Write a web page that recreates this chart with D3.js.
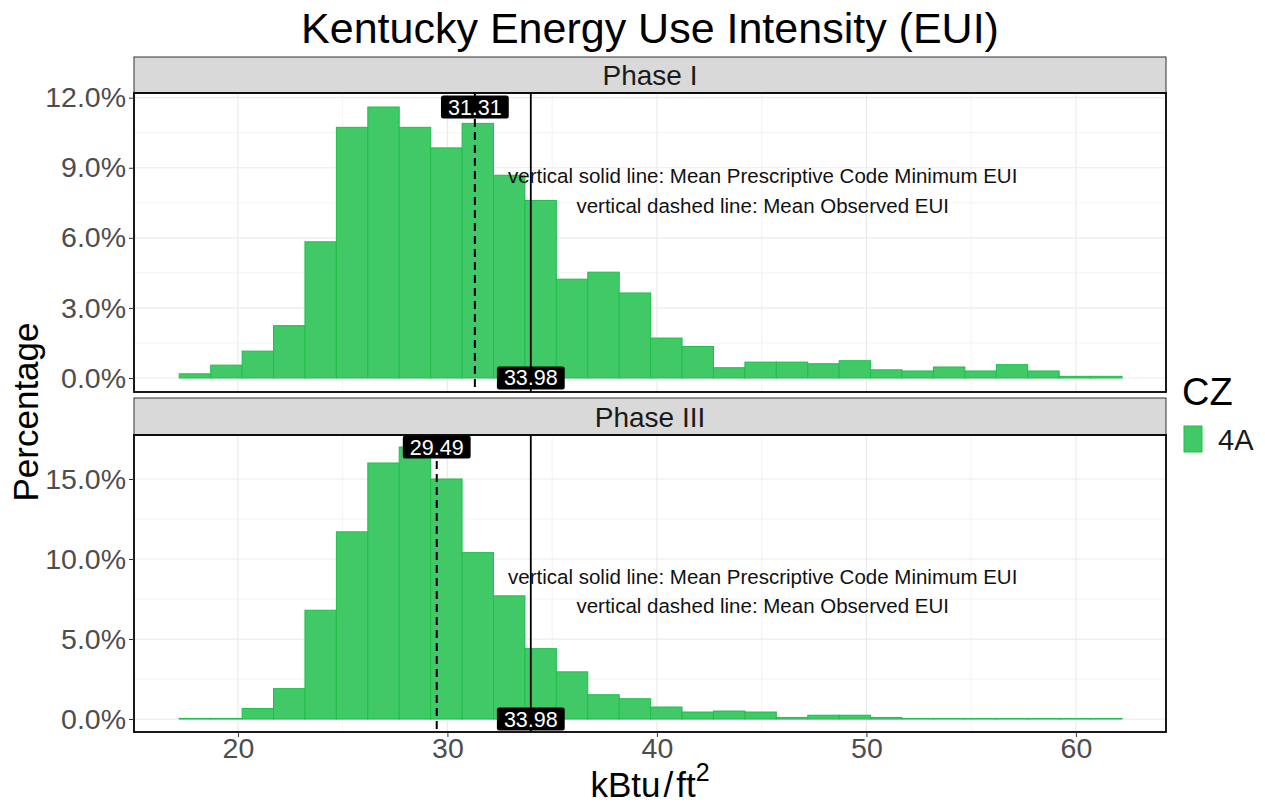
<!DOCTYPE html>
<html>
<head>
<meta charset="utf-8">
<script src="https://cdn.jsdelivr.net/npm/d3@7"></script>
<style>
  body { margin: 0; background: #fff; }
  svg { font-family: "Liberation Sans", Arial, sans-serif; }
</style>
</head>
<body>
<div id="chart"></div>
<script>
// histogram definition (30 bins)
const binStart = 17.2
const binWidth = 1.5

// percentage of buildings per bin
const phase1Values = [0.18, 0.55, 1.15, 2.24, 5.83, 10.73, 11.6, 10.73, 9.85, 10.9,
  8.68, 7.6, 4.23, 4.53, 3.64, 1.71, 1.35, 0.44, 0.68, 0.68,
  0.61, 0.74, 0.35, 0.30, 0.47, 0.30, 0.57, 0.30, 0.07, 0.07]
const phase3Values = [0.04, 0.04, 0.66, 1.9, 6.8, 11.7, 16.0, 17.0, 15.0, 10.4,
  7.7, 4.4, 2.95, 1.52, 1.27, 0.75, 0.44, 0.5, 0.44, 0.1,
  0.24, 0.24, 0.1, 0.03, 0.03, 0.03, 0.03, 0.03, 0.03, 0.03]

const panelNames = ["Phase I", "Phase III"]
const observedMeans = [31.31, 29.49]
const codeMeans = [33.98, 33.98]

const xTicks = [20, 30, 40, 50, 60]
const xMinor = [25, 35, 45, 55]
const yTicksTop = [0, 3, 6, 9, 12]
const yMinorTop = [1.5, 4.5, 7.5, 10.5]
const yTicksBottom = [0, 5, 10, 15]
const yMinorBottom = [2.5, 7.5, 12.5]

const noteLines = ["vertical solid line: Mean Prescriptive Code Minimum EUI",
  "vertical dashed line: Mean Observed EUI"]

const width = 1265
const height = 808
const left = 134
const right = 1166

const svg = d3.select("#chart").append("svg")
  .attr("width", width)
  .attr("height", height)

const x = d3.scaleLinear().domain([15.04, 64.3]).range([left, right])

const panels = [
  { name: panelNames[0], values: phase1Values, obs: observedMeans[0], code: codeMeans[0],
    stripTop: 57, top: 93, bottom: 392, yDomain: [-0.6, 12.2],
    ticks: yTicksTop, minor: yMinorTop, noteY: [8.65, 7.35] },
  { name: panelNames[1], values: phase3Values, obs: observedMeans[1], code: codeMeans[1],
    stripTop: 398, top: 435, bottom: 732, yDomain: [-0.81, 17.75],
    ticks: yTicksBottom, minor: yMinorBottom, noteY: [8.9, 7.05] }
]

panels.forEach((p, pi) => {
  const y = d3.scaleLinear().domain(p.yDomain).range([p.bottom, p.top])
  const g = svg.append("g")

  // strip
  g.append("rect")
    .attr("x", left).attr("y", p.stripTop)
    .attr("width", right - left).attr("height", p.top - p.stripTop)
    .attr("fill", "#d9d9d9").attr("stroke", "#333").attr("stroke-width", 1)
  g.append("text")
    .attr("x", (left + right) / 2).attr("y", (p.stripTop + p.top) / 2 + 10)
    .attr("text-anchor", "middle").attr("font-size", 28).attr("fill", "#1a1a1a")
    .text(p.name)

  const clipId = "clip" + pi
  svg.append("clipPath").attr("id", clipId).append("rect")
    .attr("x", left).attr("y", p.top).attr("width", right - left).attr("height", p.bottom - p.top)

  const inner = g.append("g").attr("clip-path", `url(#${clipId})`)

  // grid
  inner.selectAll(".minx").data(xMinor).enter().append("line")
    .attr("x1", d => x(d)).attr("x2", d => x(d)).attr("y1", p.top).attr("y2", p.bottom)
    .attr("stroke", "#f0f0f0").attr("stroke-width", 0.8)
  inner.selectAll(".miny").data(p.minor).enter().append("line")
    .attr("x1", left).attr("x2", right).attr("y1", d => y(d)).attr("y2", d => y(d))
    .attr("stroke", "#f0f0f0").attr("stroke-width", 0.8)
  inner.selectAll(".majx").data(xTicks).enter().append("line")
    .attr("x1", d => x(d)).attr("x2", d => x(d)).attr("y1", p.top).attr("y2", p.bottom)
    .attr("stroke", "#ebebeb").attr("stroke-width", 1.2)
  inner.selectAll(".majy").data(p.ticks).enter().append("line")
    .attr("x1", left).attr("x2", right).attr("y1", d => y(d)).attr("y2", d => y(d))
    .attr("stroke", "#ebebeb").attr("stroke-width", 1.2)

  // bars
  inner.selectAll(".bar").data(p.values).enter().append("rect")
    .attr("x", (d, i) => x(binStart + i * binWidth))
    .attr("width", (d, i) => x(binStart + (i + 1) * binWidth) - x(binStart + i * binWidth))
    .attr("y", d => y(d))
    .attr("height", d => y(0) - y(d))
    .attr("fill", "#40c966")
    .attr("stroke", "#1fbf4b")
    .attr("stroke-width", 1)

  // mean lines
  inner.append("line")
    .attr("x1", x(p.obs)).attr("x2", x(p.obs)).attr("y1", p.top).attr("y2", p.bottom)
    .attr("stroke", "#000").attr("stroke-width", 2).attr("stroke-dasharray", "8,5")
  inner.append("line")
    .attr("x1", x(p.code)).attr("x2", x(p.code)).attr("y1", p.top).attr("y2", p.bottom)
    .attr("stroke", "#000").attr("stroke-width", 1.8)

  // notes
  noteLines.forEach((t, k) => {
    inner.append("text")
      .attr("x", x(45.05)).attr("y", y(p.noteY[k]) + 7)
      .attr("text-anchor", "middle").attr("font-size", 20.5).attr("fill", "#111")
      .text(t)
  })

  // labels
  const labels = [
    { v: p.obs, yv: d3.max(p.values) },
    { v: p.code, yv: 0 }
  ]
  labels.forEach(l => {
    const txt = l.v.toFixed(2)
    const t = inner.append("text")
      .attr("x", x(l.v)).attr("y", y(l.yv) + 7.5)
      .attr("text-anchor", "middle").attr("font-size", 21.5).attr("fill", "#fff")
      .text(txt)
    const bb = t.node().getBBox()
    inner.insert("rect", "text:last-child")
      .attr("x", bb.x - 7).attr("y", y(l.yv) - 11.5)
      .attr("width", bb.width + 14).attr("height", 23)
      .attr("rx", 2.5).attr("fill", "#000")
    t.raise()
  })

  // panel border
  g.append("rect")
    .attr("x", left).attr("y", p.top)
    .attr("width", right - left).attr("height", p.bottom - p.top)
    .attr("fill", "none").attr("stroke", "#000").attr("stroke-width", 1.8)

  // y axis
  const yAxis = d3.axisLeft(y).tickValues(p.ticks).tickSize(5).tickPadding(3)
    .tickFormat(d => d.toFixed(1) + "%")
  const ay = g.append("g").attr("transform", `translate(${left},0)`).call(yAxis)
  ay.select(".domain").remove()
  ay.selectAll(".tick line").attr("stroke", "#333")
  ay.selectAll(".tick text").attr("font-size", 28.5).attr("fill", "#4d4d4d")
    .attr("font-family", "Liberation Sans, Arial, sans-serif")

  if (pi === 1) {
    const xAxis = d3.axisBottom(x).tickValues(xTicks).tickSize(5).tickPadding(1)
    const ax = g.append("g").attr("transform", `translate(0,${p.bottom})`).call(xAxis)
    ax.select(".domain").remove()
    ax.selectAll(".tick line").attr("stroke", "#333")
    ax.selectAll(".tick text").attr("font-size", 28.5).attr("fill", "#4d4d4d")
      .attr("font-family", "Liberation Sans, Arial, sans-serif")
  }
})

// title
svg.append("text")
  .attr("x", 650).attr("y", 43)
  .attr("text-anchor", "middle").attr("font-size", 43).attr("fill", "#000")
  .text("Kentucky Energy Use Intensity (EUI)")

// axis titles
svg.append("text")
  .attr("transform", "translate(38,412) rotate(-90)")
  .attr("text-anchor", "middle").attr("font-size", 35).attr("fill", "#000")
  .text("Percentage")

const xt = svg.append("text")
  .attr("x", 650).attr("y", 797)
  .attr("text-anchor", "middle").attr("font-size", 35).attr("fill", "#000")
xt.append("tspan").text("kBtu")
xt.append("tspan").attr("dx", 3).text("/")
xt.append("tspan").attr("dx", 3).text("ft")
xt.append("tspan").attr("dy", -16).attr("font-size", 25).text("2")

// legend
svg.append("text")
  .attr("x", 1182).attr("y", 405)
  .attr("font-size", 38).attr("fill", "#000")
  .text("CZ")
svg.append("rect")
  .attr("x", 1184).attr("y", 426).attr("width", 18).attr("height", 26)
  .attr("fill", "#40c966").attr("stroke", "#1fbf4b").attr("stroke-width", 1)
svg.append("text")
  .attr("x", 1218).attr("y", 450)
  .attr("font-size", 29).attr("fill", "#1a1a1a")
  .text("4A")
</script>
</body>
</html>
